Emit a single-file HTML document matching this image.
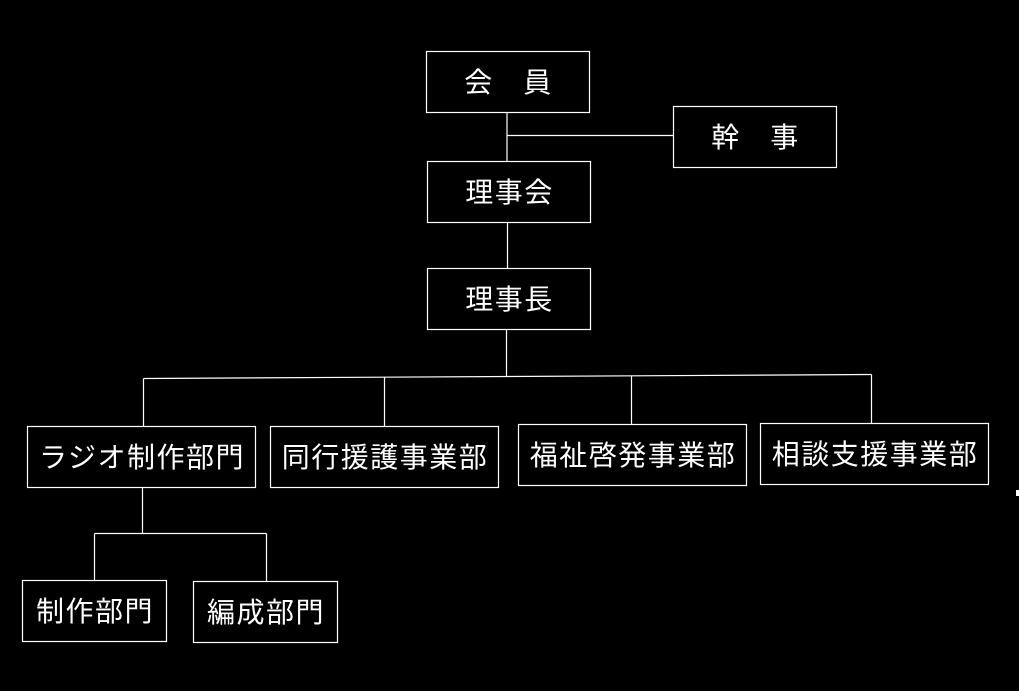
<!DOCTYPE html>
<html>
<head>
<meta charset="utf-8">
<style>
  html, body { margin:0; padding:0; background:#000; }
  body { width:1019px; height:691px; overflow:hidden; }
  svg { display:block; }
  text { font-family: "Liberation Sans", "Noto Sans CJK JP", sans-serif; font-size:28px; fill:#fff; letter-spacing:1.5px; }
</style>
</head>
<body>
<svg width="1019" height="691" viewBox="0 0 1019 691" xmlns="http://www.w3.org/2000/svg">
  <rect x="0" y="0" width="1019" height="691" fill="#000"/>
  <g stroke="#fff" stroke-width="1.2" fill="none">
    <!-- connectors -->
    <line x1="507" y1="112" x2="507" y2="161"/>
    <line x1="507" y1="135.5" x2="673.5" y2="135.5"/>
    <line x1="507.5" y1="222" x2="507.5" y2="268"/>
    <line x1="506.5" y1="329" x2="506.5" y2="376"/>
    <line x1="143.5" y1="378.5" x2="871.5" y2="374.5"/>
    <line x1="143.5" y1="378.5" x2="143.5" y2="426.5"/>
    <line x1="384.5" y1="377.5" x2="384.5" y2="426.5"/>
    <line x1="631.5" y1="376" x2="631.5" y2="424.5"/>
    <line x1="871.5" y1="374.5" x2="871.5" y2="423.5"/>
    <line x1="142.5" y1="487" x2="142.5" y2="533.5"/>
    <line x1="94.5" y1="533.5" x2="266.5" y2="533.5"/>
    <line x1="94.5" y1="533.5" x2="94.5" y2="580.5"/>
    <line x1="266.5" y1="533.5" x2="266.5" y2="581.5"/>
    <!-- boxes -->
    <rect x="426.5" y="51.5" width="163" height="61"/>
    <rect x="673.5" y="106.5" width="163" height="61"/>
    <rect x="427.5" y="161.5" width="163" height="61"/>
    <rect x="427.5" y="268.5" width="163" height="61"/>
    <rect x="27.5" y="426.5" width="228" height="61"/>
    <rect x="270.5" y="426.5" width="228" height="61"/>
    <rect x="518.5" y="424.5" width="228" height="61"/>
    <rect x="760.5" y="423.5" width="228" height="61"/>
    <rect x="22.5" y="580.5" width="144" height="61"/>
    <rect x="193.5" y="581.5" width="144" height="61"/>
  </g>
  <rect x="1016" y="490" width="3" height="6" fill="#fff"/>
  <g text-anchor="middle" dominant-baseline="central">
    <text x="508.5" y="82.5">会　員</text>
    <text x="755.5" y="137.5">幹　事</text>
    <text x="509.5" y="192.5">理事会</text>
    <text x="509.5" y="299.5">理事長</text>
    <text x="142" y="457.5">ラジオ制作部門</text>
    <text x="385" y="457.5">同行援護事業部</text>
    <text x="633" y="455.5">福祉啓発事業部</text>
    <text x="875" y="454.5">相談支援事業部</text>
    <text x="95" y="611.5">制作部門</text>
    <text x="266" y="612.5">編成部門</text>
  </g>
</svg>
</body>
</html>
